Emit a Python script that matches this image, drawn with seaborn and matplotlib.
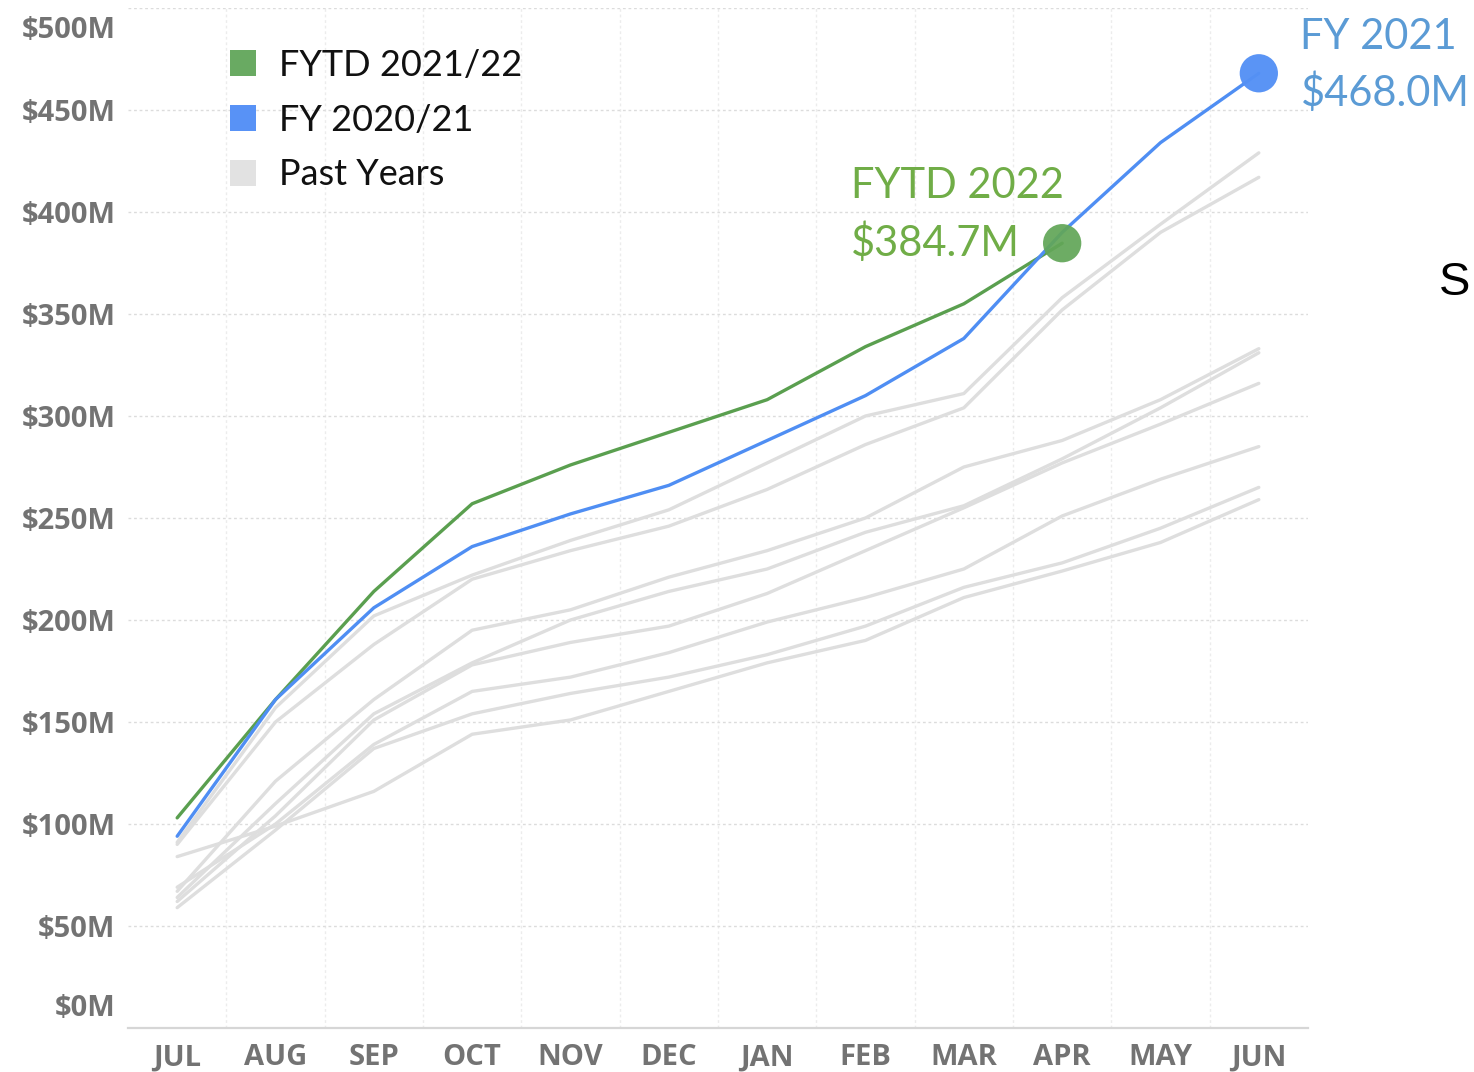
import numpy as np
import pandas as pd
import matplotlib
matplotlib.use("Agg")
import matplotlib.pyplot as plt
from matplotlib.lines import Line2D
import seaborn as sns

# ---------------- data ----------------
months = ["JUL", "AUG", "SEP", "OCT", "NOV", "DEC", "JAN", "FEB", "MAR", "APR", "MAY", "JUN"]
fytd_2122 = [103, 161, 214, 257, 276, 292, 308, 334, 355, 384.7]
fy_2021 = [94, 161, 206, 236, 252, 266, 288, 310, 338, 390, 434, 468.0]
past_a = [91, 157, 202, 222, 239, 254, 277, 300, 311, 358, 394, 429]
past_b = [90, 150, 188, 220, 234, 246, 264, 286, 304, 352, 390, 417]
past_c = [67, 121, 161, 195, 205, 221, 234, 250, 275, 288, 308, 333]
past_d = [64, 110, 154, 179, 200, 214, 225, 243, 256, 279, 304, 331]
past_e = [62, 104, 151, 178, 189, 197, 213, 234, 255, 277, 296, 316]
past_f = [69, 100, 139, 165, 172, 184, 199, 211, 225, 251, 269, 285]
past_g = [59, 97, 137, 154, 164, 172, 183, 197, 216, 228, 245, 265]
past_h = [84, 99, 116, 144, 151, 165, 179, 190, 211, 224, 238, 259]
past_years = [past_a, past_b, past_c, past_d, past_e, past_f, past_g, past_h]

y_ticks = [0, 50, 100, 150, 200, 250, 300, 350, 400, 450, 500]
y_tick_labels = ["$0M", "$50M", "$100M", "$150M", "$200M", "$250M",
                 "$300M", "$350M", "$400M", "$450M", "$500M"]
legend_labels = ["FYTD 2021/22", "FY 2020/21", "Past Years"]
fytd_note = ["FYTD 2022", "$384.7M"]
fy_note = ["FY 2021", "$468.0M"]
side_text = "S"

# ---------------- colours ----------------
GREEN_LINE = "#5a9f4f"
GREEN_DOT = "#62a658"
GREEN_TEXT = "#70ad47"
BLUE_LINE = "#4f8ef3"
BLUE_DOT = "#5591f5"
BLUE_TEXT = "#5b9bd5"
GREY_LINE = "#dedede"
TICK_GREY = "#737373"

# ---------------- frames ----------------
idx = list(range(len(months)))
df_fytd = pd.DataFrame({"m": idx[:len(fytd_2122)], "value": fytd_2122})
df_fy = pd.DataFrame({"m": idx, "value": fy_2021})
df_past = pd.concat(
    [pd.DataFrame({"m": idx, "value": vals, "year": f"p{i}"}) for i, vals in enumerate(past_years)],
    ignore_index=True,
)

sns.set_theme(style="white")
plt.rcParams["font.family"] = ["Lato", "DejaVu Sans"]

fig = plt.figure(figsize=(14.74, 10.72), dpi=100)
ax = fig.add_axes([128 / 1474, 1 - 1028 / 1072, 1180 / 1474, 1020 / 1072])

# grey past years
sns.lineplot(data=df_past, x="m", y="value", units="year", estimator=None,
             color=GREY_LINE, linewidth=2.4, ax=ax, zorder=2, legend=False)
sns.lineplot(data=df_fytd, x="m", y="value", color=GREEN_LINE, linewidth=2.4,
             ax=ax, zorder=3, legend=False)
sns.lineplot(data=df_fy, x="m", y="value", color=BLUE_LINE, linewidth=2.4,
             ax=ax, zorder=4, legend=False)

# end-point dots
sns.scatterplot(x=[df_fytd["m"].iloc[-1]], y=[df_fytd["value"].iloc[-1]], s=760,
                color=GREEN_DOT, edgecolor="none", alpha=0.93, ax=ax, zorder=5, legend=False)
sns.scatterplot(x=[df_fy["m"].iloc[-1]], y=[df_fy["value"].iloc[-1]], s=760,
                color=BLUE_DOT, edgecolor="none", alpha=0.97, ax=ax, zorder=5, legend=False)

# axes
ax.set_xlim(-0.5, len(months) - 0.5)
ax.set_ylim(0, 500)
ax.set_xticks(idx)
ax.set_xticklabels(months)
ax.set_yticks(y_ticks)
# end labels are drawn separately (shifted inside the plot range, Tableau style)
ax.set_yticklabels([""] + y_tick_labels[1:-1] + [""])
ax.set_xlabel("")
ax.set_ylabel("")
ax.set_xticks([i + 0.5 for i in idx[:-1]], minor=True)

tick_font = dict(fontfamily=["Open Sans", "DejaVu Sans"], fontweight="bold",
                 fontsize=21, color=TICK_GREY)
for lab in ax.get_xticklabels() + ax.get_yticklabels():
    lab.set_fontfamily(tick_font["fontfamily"])
    lab.set_fontweight(tick_font["fontweight"])
    lab.set_fontsize(tick_font["fontsize"])
    lab.set_color(tick_font["color"])

ytrans = ax.get_yaxis_transform()
ax.annotate(y_tick_labels[0], xy=(0, y_ticks[0]), xycoords=ytrans, xytext=(-9, 14),
            textcoords="offset points", ha="right", va="center", annotation_clip=False,
            **tick_font)
ax.annotate(y_tick_labels[-1], xy=(0, y_ticks[-1]), xycoords=ytrans, xytext=(-9, -16),
            textcoords="offset points", ha="right", va="center", annotation_clip=False,
            **tick_font)

ax.tick_params(axis="both", which="both", length=0)
ax.tick_params(axis="y", pad=9)
ax.tick_params(axis="x", pad=11)

ax.grid(False)
ax.yaxis.grid(True, which="major", color="#dcdcdc", linestyle=(0, (2, 2)), linewidth=1.0)
ax.xaxis.grid(True, which="minor", color="#ececec", linestyle=(0, (2, 2)), linewidth=1.0)
for side in ["left", "right", "top"]:
    ax.spines[side].set_visible(False)
ax.spines["bottom"].set_color("#d6d6d6")
ax.spines["bottom"].set_linewidth(1.6)

# legend
handles = [Line2D([], [], marker="s", linestyle="", markersize=19, color=c, markeredgewidth=0)
           for c in ["#69aa62", "#5892f6", "#e2e2e2"]]
leg = ax.legend(handles, legend_labels, loc="upper left", bbox_to_anchor=(0.07, 0.974),
                frameon=False, fontsize=26, labelspacing=0.6, handletextpad=0.5,
                handlelength=1.0, borderaxespad=0)
for t in leg.get_texts():
    t.set_color("#111111")

# annotations
xa, ya = df_fytd["m"].iloc[-1], df_fytd["value"].iloc[-1]
ax.annotate(fytd_note[0], xy=(xa, ya), xytext=(-152, 41), textcoords="offset points",
            ha="left", va="center", fontsize=30, color=GREEN_TEXT, annotation_clip=False)
ax.annotate(fytd_note[1], xy=(xa, ya), xytext=(-152, 0), textcoords="offset points",
            ha="left", va="center", fontsize=30, color=GREEN_TEXT, annotation_clip=False)
xb, yb = df_fy["m"].iloc[-1], df_fy["value"].iloc[-1]
ax.annotate(fy_note[0], xy=(xb, yb), xytext=(30, 26), textcoords="offset points",
            ha="left", va="center", fontsize=30, color=BLUE_TEXT, annotation_clip=False)
ax.annotate(fy_note[1], xy=(xb, yb), xytext=(30, -14), textcoords="offset points",
            ha="left", va="center", fontsize=30, color=BLUE_TEXT, annotation_clip=False)

fig.text(1455 / 1474, 1 - 283 / 1072, side_text, ha="center", va="center",
         fontsize=34, color="#000000", family=["Liberation Sans", "DejaVu Sans"])

fig.savefig("out.png", dpi=100, facecolor="white")
